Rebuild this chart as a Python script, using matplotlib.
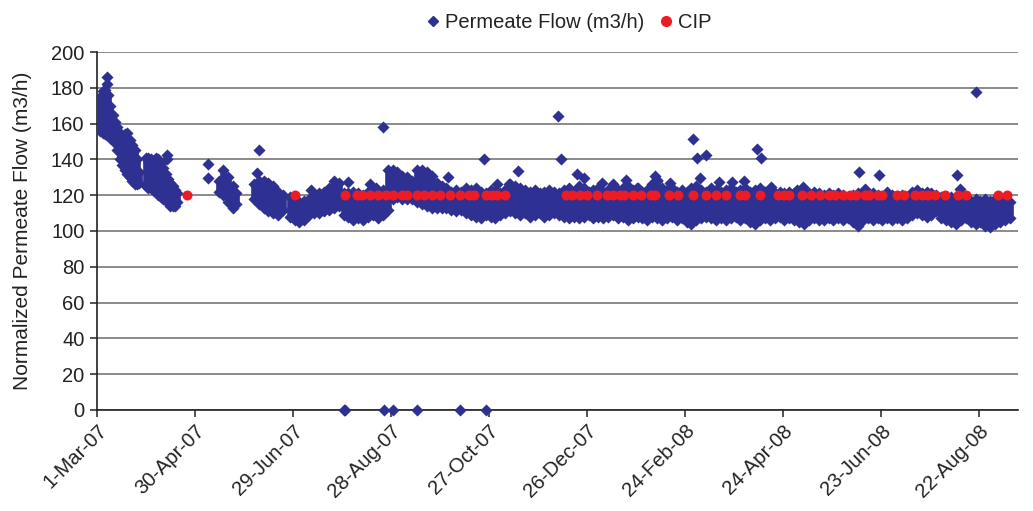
import datetime as dt
import matplotlib
matplotlib.use("Agg")
import matplotlib.pyplot as plt
import matplotlib.dates as mdates
from matplotlib.lines import Line2D

plt.rcParams["font.family"] = ["Liberation Sans", "DejaVu Sans"]

START = dt.datetime(2007, 3, 1)

# ---- Permeate flow: daily range of readings (day offset from 1-Mar-07, high, low)
band_day = [2, 3.5, 5, 6.5, 8, 9.5, 11, 12.5, 14, 15.5, 17, 18.5, 20, 21.5, 23, 24.5, 26,
            30, 31.5, 33, 34.5, 36, 37.5, 39, 40.5, 42, 43.5, 45, 46.5, 48, 49,
            75, 77, 80, 83, 85,
            96, 99, 102, 105, 108, 111, 114,
            118, 121, 124, 127, 130, 133, 136, 139, 142, 145, 148, 151, 154, 157, 160,
            163, 166, 169, 172, 175, 178, 181, 184, 187, 190, 193, 196, 199, 202, 205,
            208, 211, 214, 217, 220, 223, 226, 229, 232, 235, 238, 241, 244, 247, 250,
            253, 256, 259, 262, 265, 268, 271, 274, 277, 280, 283, 286, 289, 292, 295,
            298, 301, 304, 307, 310, 313, 316, 319, 322, 325, 328, 331, 334, 337, 340,
            343, 346, 349, 352, 355, 358, 361, 364, 367, 370, 373, 376, 379, 382, 385,
            388, 391, 394, 397, 400, 403, 406, 409, 412, 415, 418, 421, 424, 427, 430,
            433, 436, 439, 442, 445, 448, 451, 454, 457, 460, 463, 466, 469, 472, 475,
            478, 481, 484, 487, 490, 493, 496, 499, 502, 505, 508, 511, 514, 517, 520,
            523, 526, 529, 532, 535, 538, 541, 544, 547, 550, 553, 556, 559]
band_hi = [175, 178, 179, 176, 170, 165, 161, 158, 155, 153, 154, 155, 151, 148, 145, 140, 133,
           141, 141, 140, 139, 141, 140, 138, 135, 132, 129, 127, 125, 123, 121,
           128, 134, 130, 125, 121,
           126, 128, 128, 127, 125, 122, 120,
           119, 118, 116, 117, 118, 119, 121, 122, 124, 128, 127, 121, 121, 122, 121,
           120, 122, 121, 122, 123, 134, 134, 133, 131, 130, 128, 134, 134, 133, 131,
           127, 125, 124, 122, 123, 122, 124, 123, 124, 122, 121, 123, 122, 121, 123,
           126, 125, 124, 123, 122, 123, 121, 122, 123, 122, 121, 123, 124, 122, 125,
           124, 122, 123, 124, 122, 123, 124, 123, 124, 125, 123, 124, 122, 123, 126,
           128, 124, 123, 124, 122, 123, 122, 124, 125, 123, 122, 124, 123, 122, 123,
           124, 122, 123, 124, 122, 123, 124, 122, 123, 121, 122, 121, 122, 121, 122,
           123, 121, 122, 121, 120, 121, 120, 121, 120, 119, 120, 121, 122, 120, 121,
           120, 119, 121, 120, 119, 120, 119, 122, 123, 121, 122, 121, 120, 119, 118,
           119, 118, 119, 118, 117, 118, 117, 118, 117, 118, 117, 118, 116]
band_lo = [156, 155, 154, 153, 152, 151, 149, 145, 140, 137, 134, 132, 130, 128, 126, 126, 127,
           125, 124, 124, 123, 122, 120, 119, 118, 117, 116, 114, 114, 114, 116,
           122, 120, 116, 113, 115,
           118, 115, 113, 111, 110, 109, 112,
           108, 106, 105, 106, 109, 110, 110, 111, 112, 113, 114, 109, 108, 106, 107,
           106, 108, 109, 107, 109, 112, 118, 119, 118, 118, 118, 116, 115, 114, 113,
           113, 113, 113, 112, 111, 112, 110, 109, 108, 107, 109, 108, 107, 109, 110,
           111, 110, 109, 110, 108, 109, 110, 108, 109, 110, 109, 108, 107, 108, 107,
           108, 109, 107, 108, 107, 108, 109, 107, 108, 106, 107, 108, 107, 106, 108,
           107, 106, 107, 108, 106, 107, 105, 104, 106, 107, 108, 107, 106, 107, 106,
           107, 108, 106, 107, 105, 104, 106, 107, 106, 107, 108, 106, 107, 106, 105,
           104, 106, 107, 106, 106, 107, 106, 107, 106, 107, 105, 103, 106, 107, 106,
           107, 106, 107, 106, 107, 106, 107, 109, 110, 109, 108, 109, 111, 107, 106,
           105, 104, 106, 107, 105, 104, 105, 103, 102, 104, 105, 106, 107]

# ---- Permeate flow: isolated readings
spot_day = [6, 6, 43, 43, 68, 68, 99, 98, 131, 154, 167, 171, 175, 215,
            237, 245, 252, 258, 282.5, 284, 294, 298, 309, 316, 324, 330.5,
            342, 343, 351, 365, 367.6, 373, 369, 381, 388.7, 396.4, 404, 406.6,
            412.5, 428.5, 432.5, 466.6, 470, 479, 484, 526.4, 528.5, 538]
spot_val = [186, 182, 142.5, 140, 137.5, 129.5, 145.3, 132.2, 123, 127.6, 126, 124.3, 158.3, 130,
            140, 126, 126, 133.5, 164, 140, 132, 129.5, 126.6, 126, 128.5, 124,
            131, 128.3, 127, 151.3, 140.6, 142.4, 129.6, 127.6, 127.6, 128, 145.7, 140.6,
            124.6, 122.8, 124.6, 133, 123.7, 131.4, 121.7, 131.4, 123.7, 177.5]

# ---- Permeate flow: zero readings
zero_day = [151, 152, 176, 181, 196, 222, 238]
zero_val = [0, 0, 0, 0, 0, 0, 0]

# ---- CIP events (plotted at 120 m3/h)
cip_day = [55, 121, 152, 159, 162, 167, 172, 177, 181, 187, 190, 196, 200, 205,
           210, 216, 222, 228, 231, 238, 242, 245, 250, 287, 291, 296, 300, 306,
           312, 316, 320, 323, 328, 333, 339, 342, 350, 356, 365, 373, 379, 385,
           394, 397, 406, 417, 421, 424, 432, 437, 443, 448, 452, 457, 461, 465,
           470, 473, 478, 481, 490, 494, 501, 505, 509, 513, 519, 527, 532, 552, 557]
CIP_LEVEL = 120

tick_labels = ["1-Mar-07", "30-Apr-07", "29-Jun-07", "28-Aug-07", "27-Oct-07",
               "26-Dec-07", "24-Feb-08", "24-Apr-08", "23-Jun-08", "22-Aug-08"]
y_ticks = [0, 20, 40, 60, 80, 100, 120, 140, 160, 180, 200]

BLUE = "#2E3192"
RED = "#ED1C24"
TXT = "#222222"

base = mdates.date2num(START)
def to_x(days):
    return [base + d for d in days]

fig = plt.figure(figsize=(10.33, 5.11), dpi=100)
ax = fig.add_axes([0.0939, 0.1977, 0.8916, 0.7005])

ax.set_axisbelow(True)
ax.yaxis.grid(True, color="#8a8a8a", linewidth=1.4)

DS = 38
bx = to_x(band_day)
ax.vlines(bx, band_lo, band_hi, colors=BLUE, linewidth=4.8, zorder=3)
ax.scatter(bx, band_hi, marker="D", s=DS, color=BLUE, linewidths=0, zorder=3)
ax.scatter(bx, band_lo, marker="D", s=DS, color=BLUE, linewidths=0, zorder=3)
ax.scatter(to_x(spot_day), spot_val, marker="D", s=DS, color=BLUE, linewidths=0, zorder=3)
ax.scatter(to_x(zero_day), zero_val, marker="D", s=DS, color=BLUE, linewidths=0, zorder=3, clip_on=False)
ax.scatter(to_x(cip_day), [CIP_LEVEL] * len(cip_day), marker="o", s=52, color=RED,
           linewidths=0, zorder=4)

ax.set_ylim(0, 200)
ax.set_yticks(y_ticks)
ax.set_xlim(base, base + 564)
tick_pos = [mdates.date2num(dt.datetime.strptime(t, "%d-%b-%y")) for t in tick_labels]
ax.set_xticks(tick_pos)
ax.set_xticklabels(tick_labels, rotation=45, ha="right", rotation_mode="anchor")

for s in ["top", "right"]:
    ax.spines[s].set_visible(False)
for s in ["left", "bottom"]:
    ax.spines[s].set_color(TXT)
    ax.spines[s].set_linewidth(1.2)
ax.tick_params(axis="both", direction="out", length=5, width=1.1, color=TXT,
               labelsize=14.5, labelcolor=TXT)
ax.tick_params(axis="x", pad=3)
ax.tick_params(axis="y", pad=4)

ax.set_ylabel("Normalized Permeate Flow (m3/h)", fontsize=15, color=TXT, labelpad=14)

handles = [Line2D([], [], marker="D", linestyle="none", color=BLUE, markersize=5),
           Line2D([], [], marker="o", linestyle="none", color=RED, markersize=7)]
fig.legend(handles, ["Permeate Flow (m3/h)", "CIP"], loc="upper center",
           bbox_to_anchor=(0.548, 1.01), ncol=2, frameon=False, fontsize=14.5,
           handletextpad=0.0, columnspacing=0.45, handlelength=1.2, labelcolor=TXT)

fig.savefig("out.png", dpi=100)
